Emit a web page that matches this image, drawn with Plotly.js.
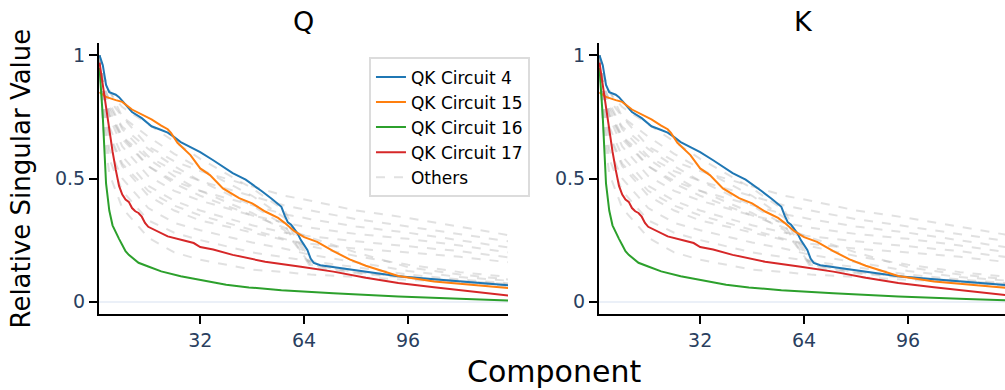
<!DOCTYPE html>
<html>
<head>
<meta charset="utf-8">
<script src="https://cdn.plot.ly/plotly-3.0.1.min.js"></script>
<style>
html, body { margin: 0; padding: 0; overflow: hidden; background: #fff; }
#chart { width: 1010px; height: 390px; }
</style>
</head>
<body>
<div id="chart"></div>
<script>
// ---- Data (Q and K panels look identical) ----
const panelTitles = ["Q", "K"];
const xTickVals = [32, 64, 96];
const yTickVals = [0, 0.5, 1];
const yTickText = ["0", "0.5", "1"];

const circuit4X = [1,2,3,4,6,7,8,11,14,17,20,22,24,26,29,32,36,40,42,46,49,51,54,57,58,59,60,62,63,64,65,66,67,69,73,83,93,104,114,127];
const circuit4Y = [1.0,0.96,0.88,0.85,0.84,0.83,0.815,0.77,0.745,0.712,0.697,0.686,0.668,0.648,0.627,0.607,0.574,0.54,0.522,0.495,0.468,0.448,0.418,0.385,0.35,0.322,0.312,0.277,0.25,0.232,0.21,0.175,0.157,0.148,0.14,0.12,0.103,0.091,0.081,0.066];

const circuit15X = [1,3,6,8,11,14,17,20,22,23,25,29,32,35,39,44,48,52,56,58,61,64,68,73,78,83,93,104,114,127];
const circuit15Y = [0.85,0.831,0.818,0.811,0.78,0.76,0.74,0.715,0.7,0.685,0.645,0.595,0.541,0.514,0.46,0.42,0.399,0.366,0.34,0.32,0.286,0.262,0.243,0.205,0.172,0.146,0.104,0.082,0.069,0.055];

const circuit16X = [1,2,3,4,5,6,7,8,9,10,11,13,16,20,26,32,36,40,47,57,73,93,114,127];
const circuit16Y = [0.95,0.75,0.48,0.37,0.31,0.28,0.255,0.23,0.205,0.19,0.178,0.158,0.143,0.123,0.103,0.088,0.078,0.069,0.058,0.046,0.034,0.021,0.011,0.005];

const circuit17X = [1,2,3,4,5,6,7,8,9,10,11,12,13,14,15,16,19,22,27,30,32,36,42,52,63,73,83,93,104,114,127];
const circuit17Y = [0.97,0.875,0.8,0.69,0.61,0.535,0.47,0.435,0.415,0.405,0.38,0.367,0.36,0.345,0.32,0.304,0.284,0.265,0.248,0.238,0.222,0.212,0.19,0.162,0.142,0.122,0.097,0.076,0.059,0.044,0.025];

const othersX = [1,2,4,8,16,24,32,48,58,66,80,96,112,127];
const others1  = [1.0,0.9,0.85,0.79,0.72,0.65,0.58,0.46,0.37,0.16,0.125,0.1,0.085,0.07];
const others2  = [1.0,0.88,0.82,0.75,0.67,0.6,0.54,0.43,0.34,0.15,0.12,0.098,0.082,0.066];
const others3  = [1.0,0.86,0.79,0.71,0.62,0.55,0.49,0.39,0.31,0.14,0.115,0.095,0.078,0.062];
const others4  = [1.0,0.85,0.76,0.67,0.58,0.51,0.45,0.36,0.29,0.15,0.12,0.1,0.084,0.072];
const others5  = [1.0,0.93,0.86,0.75,0.63,0.57,0.53,0.47,0.43,0.41,0.37,0.34,0.305,0.27];
const others6  = [1.0,0.9,0.81,0.7,0.59,0.53,0.49,0.43,0.39,0.37,0.335,0.305,0.275,0.245];
const others7  = [1.0,0.88,0.78,0.67,0.55,0.49,0.45,0.39,0.355,0.335,0.305,0.28,0.25,0.22];
const others8  = [1.0,0.86,0.75,0.63,0.51,0.45,0.41,0.35,0.32,0.3,0.275,0.255,0.228,0.2];
const others9  = [1.0,0.84,0.71,0.59,0.47,0.41,0.37,0.31,0.28,0.265,0.245,0.225,0.205,0.18];
const others10 = [1.0,0.8,0.67,0.55,0.43,0.37,0.33,0.28,0.25,0.235,0.215,0.2,0.182,0.16];
const others11 = [1.0,0.82,0.68,0.56,0.45,0.39,0.35,0.29,0.255,0.225,0.185,0.15,0.12,0.1];
const others12 = [1.0,0.87,0.76,0.66,0.55,0.48,0.43,0.35,0.3,0.26,0.2,0.14,0.11,0.09];
const others13 = [1.0,0.78,0.62,0.5,0.38,0.32,0.29,0.24,0.215,0.19,0.16,0.125,0.1,0.085];
const others14 = [1.0,0.75,0.58,0.45,0.33,0.28,0.25,0.2,0.18,0.165,0.14,0.11,0.09,0.075];
const others15 = [1.0,0.72,0.52,0.38,0.26,0.2,0.17,0.13,0.12,0.11,0.1,0.088,0.078,0.068];
const othersSeries = [others1,others2,others3,others4,others5,others6,others7,others8,others9,others10,others11,others12,others13,others14,others15];

const highlighted = [
  {name: "QK Circuit 4",  x: circuit4X,  y: circuit4Y,  color: "#1f77b4"},
  {name: "QK Circuit 15", x: circuit15X, y: circuit15Y, color: "#ff7f0e"},
  {name: "QK Circuit 16", x: circuit16X, y: circuit16Y, color: "#2ca02c"},
  {name: "QK Circuit 17", x: circuit17X, y: circuit17Y, color: "#d62728"}
];

// ---- Traces ----
const traces = [];
["", "2"].forEach((suffix, p) => {
  othersSeries.forEach((ys, i) => {
    traces.push({
      type: "scatter", mode: "lines",
      x: othersX, y: ys,
      xaxis: "x" + suffix, yaxis: "y" + suffix,
      name: "Others", legendgroup: "others", legendrank: 5,
      showlegend: p === 0 && i === 0,
      line: {color: "rgba(175,175,175,0.38)", width: 2, dash: "dash"},
      hoverinfo: "skip"
    });
  });
  highlighted.forEach((h, i) => {
    traces.push({
      type: "scatter", mode: "lines",
      x: h.x, y: h.y,
      xaxis: "x" + suffix, yaxis: "y" + suffix,
      name: h.name, legendgroup: h.name, legendrank: i + 1,
      showlegend: p === 0,
      line: {color: h.color, width: 2}
    });
  });
});

const xAxisBase = {
  range: [0.83, 126.8], tickvals: xTickVals,
  showline: true, linecolor: "black", linewidth: 2,
  ticks: "outside", ticklen: 8, tickwidth: 2, tickcolor: "black",
  showgrid: false, zeroline: false,
  tickfont: {size: 19, color: "#2a3f5f"}
};
const yAxisBase = {
  range: [-0.05, 1.05], tickvals: yTickVals, ticktext: yTickText,
  showline: true, linecolor: "black", linewidth: 2,
  ticks: "outside", ticklen: 8, tickwidth: 2, tickcolor: "black",
  showgrid: false, zeroline: true, zerolinecolor: "#EBF0F8", zerolinewidth: 2,
  tickfont: {size: 19, color: "#2a3f5f"}
};

const layout = {
  width: 1010, height: 390,
  margin: {l: 99, r: 2, t: 43, b: 76},
  paper_bgcolor: "white", plot_bgcolor: "white",
  font: {family: "DejaVu Sans", color: "black"},
  xaxis:  Object.assign({}, xAxisBase, {domain: [0, 0.45], anchor: "y"}),
  yaxis:  Object.assign({}, yAxisBase, {domain: [0, 1], anchor: "x"}),
  xaxis2: Object.assign({}, xAxisBase, {domain: [0.55, 1], anchor: "y2"}),
  yaxis2: Object.assign({}, yAxisBase, {domain: [0, 1], anchor: "x2"}),
  showlegend: true,
  legend: {
    x: 0.297, y: 0.947, xanchor: "left", yanchor: "top",
    bgcolor: "white", bordercolor: "#dcdcdc", borderwidth: 2,
    font: {size: 17, color: "black"}, tracegroupgap: 0
  },
  annotations: [
    {text: panelTitles[0], xref: "paper", yref: "paper", x: 0.225, y: 1, xanchor: "center", yanchor: "bottom", yshift: 4, showarrow: false, font: {size: 27}},
    {text: panelTitles[1], xref: "paper", yref: "paper", x: 0.775, y: 1, xanchor: "center", yanchor: "bottom", yshift: 4, showarrow: false, font: {size: 27}},
    {text: "Component", xref: "paper", yref: "paper", x: 0.5, y: 0, xanchor: "center", yanchor: "middle", yshift: -57, showarrow: false, font: {size: 30}},
    {text: "Relative Singular Value", xref: "paper", yref: "paper", x: 0, y: 0.5, xanchor: "center", yanchor: "middle", xshift: -79, textangle: -90, showarrow: false, font: {size: 26}}
  ]
};

Plotly.newPlot("chart", traces, layout, {displayModeBar: false, staticPlot: true});
</script>
</body>
</html>
